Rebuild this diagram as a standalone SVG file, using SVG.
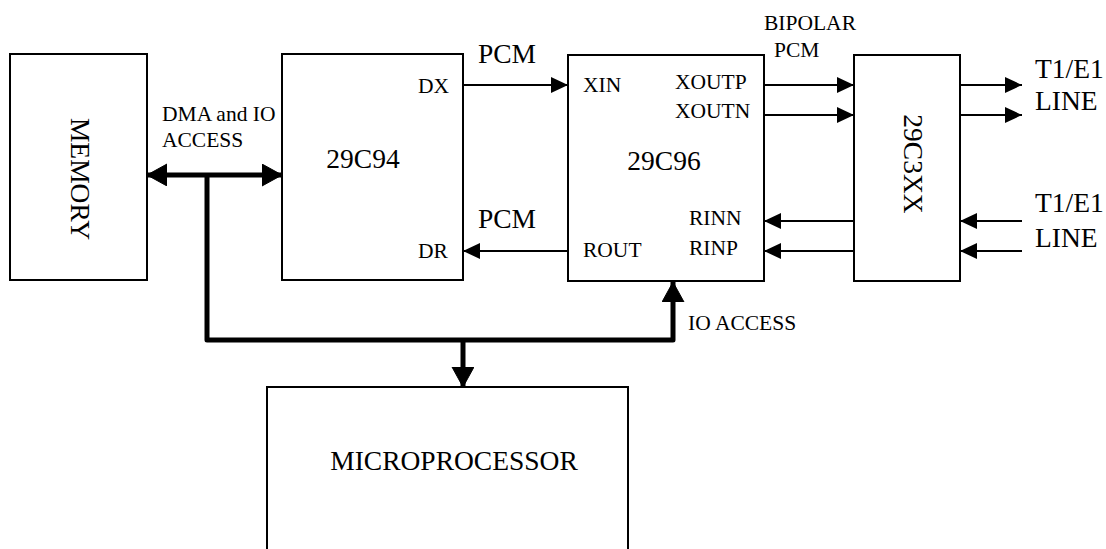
<svg xmlns="http://www.w3.org/2000/svg" width="1106" height="549" viewBox="0 0 1106 549" font-family="'Liberation Serif', 'Times New Roman', 'DejaVu Serif', serif">
<style>
.box{fill:#fff;stroke:#000;stroke-width:2}
.big{font-family:'Liberation Serif','Times New Roman','DejaVu Serif',serif;font-size:27.5px;fill:#000}
.lbl{font-family:'Liberation Serif','Times New Roman','DejaVu Serif',serif;font-size:21.5px;fill:#000}
.thin{fill:none;stroke:#000;stroke-width:2}
.bus{fill:none;stroke:#000;stroke-width:5;stroke-linejoin:round}
</style>
<defs>
<marker id="ah" markerUnits="userSpaceOnUse" markerWidth="18" markerHeight="17" refX="17" refY="8" orient="auto"><path d="M0,0 L17,8 L0,16 z" fill="#000"/></marker>
<marker id="bh" markerUnits="userSpaceOnUse" markerWidth="22" markerHeight="24" refX="20" refY="11" orient="auto-start-reverse"><path d="M0,0 L20,11 L0,22 z" fill="#000" stroke="#000" stroke-width="1" stroke-linejoin="round"/></marker>
</defs>
<rect width="1106" height="549" fill="#fff"/>
<g id="memory">
<rect class="box" x="10" y="54" width="137" height="226"/>
<text class="big" text-anchor="middle" dominant-baseline="central" transform="rotate(90 80 179)" x="80" y="179">MEMORY</text>
</g>
<g id="c29c94">
<rect class="box" x="282" y="54" width="181" height="226"/>
<text class="big" x="363" y="168" text-anchor="middle">29C94</text>
<text class="lbl" x="418" y="93">DX</text>
<text class="lbl" x="418" y="258">DR</text>
</g>
<g id="c29c96">
<rect class="box" x="568" y="55" width="196" height="226"/>
<text class="big" x="664" y="170" text-anchor="middle">29C96</text>
<text class="lbl" x="583" y="92">XIN</text>
<text class="lbl" x="675" y="89">XOUTP</text>
<text class="lbl" x="675" y="118">XOUTN</text>
<text class="lbl" x="689" y="225">RINN</text>
<text class="lbl" x="689" y="255">RINP</text>
<text class="lbl" x="583" y="257">ROUT</text>
</g>
<g id="c29c3xx">
<rect class="box" x="854" y="55" width="106" height="226"/>
<text class="big" text-anchor="middle" dominant-baseline="central" transform="rotate(90 913 164)" x="913" y="164">29C3XX</text>
</g>
<g id="microprocessor">
<rect class="box" x="267" y="387" width="361" height="170"/>
<text class="big" x="454" y="470" text-anchor="middle">MICROPROCESSOR</text>
</g>
<g id="connectors">
<line class="bus" x1="147" y1="175" x2="282" y2="175" marker-start="url(#bh)" marker-end="url(#bh)"/>
<path class="bus" d="M207,175 V340 H673 V282" marker-end="url(#bh)"/>
<path class="bus" d="M463,340 V387" marker-end="url(#bh)"/>
<line class="thin" x1="463" y1="85" x2="568" y2="85" marker-end="url(#ah)"/>
<line class="thin" x1="568" y1="251" x2="463" y2="251" marker-end="url(#ah)"/>
<line class="thin" x1="764" y1="85" x2="854" y2="85" marker-end="url(#ah)"/>
<line class="thin" x1="764" y1="115" x2="854" y2="115" marker-end="url(#ah)"/>
<line class="thin" x1="854" y1="221" x2="764" y2="221" marker-end="url(#ah)"/>
<line class="thin" x1="854" y1="251" x2="764" y2="251" marker-end="url(#ah)"/>
<line class="thin" x1="960" y1="85" x2="1022" y2="85" marker-end="url(#ah)"/>
<line class="thin" x1="960" y1="115" x2="1022" y2="115" marker-end="url(#ah)"/>
<line class="thin" x1="1022" y1="221" x2="960" y2="221" marker-end="url(#ah)"/>
<line class="thin" x1="1022" y1="251" x2="960" y2="251" marker-end="url(#ah)"/>
<text class="lbl" x="162" y="121">DMA and IO</text>
<text class="lbl" x="162" y="147">ACCESS</text>
<text class="big" x="507" y="63" text-anchor="middle">PCM</text>
<text class="big" x="507" y="228" text-anchor="middle">PCM</text>
<text class="lbl" x="764" y="30">BIPOLAR</text>
<text class="lbl" x="774" y="57">PCM</text>
<text class="lbl" x="688" y="330">IO ACCESS</text>
<text class="big" x="1035" y="78">T1/E1</text>
<text class="big" x="1035" y="110">LINE</text>
<text class="big" x="1035" y="212">T1/E1</text>
<text class="big" x="1035" y="247">LINE</text>
</g>
</svg>
